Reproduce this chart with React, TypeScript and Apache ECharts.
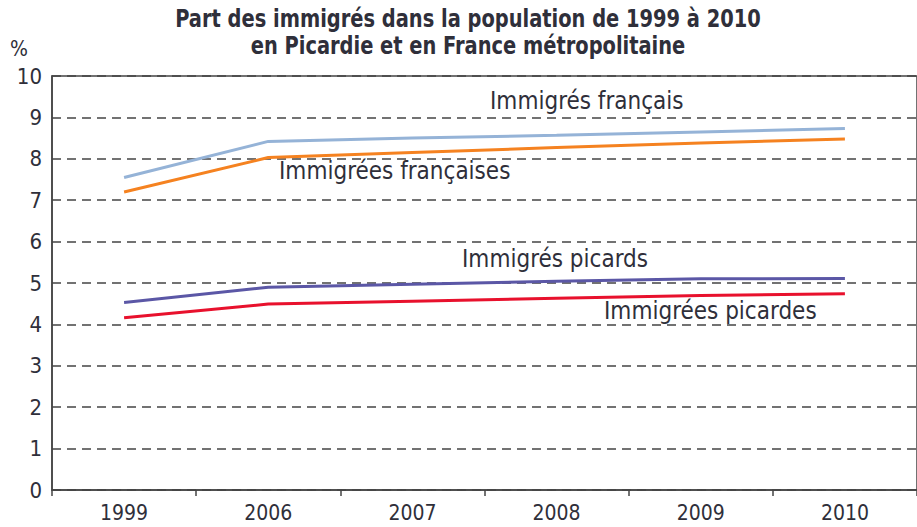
import React, { useEffect, useRef } from "react";
import * as echarts from "echarts";

const years = ["1999", "2006", "2007", "2008", "2009", "2010"];
const immigresFrancais = [7.55, 8.42, 8.5, 8.57, 8.65, 8.73];
const immigreesFrancaises = [7.2, 8.03, 8.15, 8.27, 8.38, 8.48];
const immigresPicards = [4.53, 4.9, 4.97, 5.04, 5.1, 5.11];
const immigreesPicardes = [4.16, 4.49, 4.56, 4.63, 4.7, 4.74];
const yTicks = [0, 1, 2, 3, 4, 5, 6, 7, 8, 9, 10];
const titleLines = [
  "Part des immigrés dans la population de 1999 à 2010",
  "en Picardie et en France métropolitaine",
];

const FONT = '"DejaVu Sans Condensed", "Liberation Sans Narrow", "Roboto", sans-serif';
const TXT = "#2f2f3a";

export default function App() {
  const ref = useRef<HTMLDivElement>(null);
  useEffect(() => {
    if (!ref.current) return;
    const chart = echarts.init(ref.current, null, { renderer: "svg" });
    const mk = (name: string, data: number[], color: string) => ({
      name,
      type: "line",
      data,
      symbol: "none",
      lineStyle: { color, width: 3 },
      itemStyle: { color },
    });
    const lbl = (text: string, x: number, y: number) => ({
      type: "text",
      x,
      y,
      scaleX: 0.96,
      style: { text, fontFamily: FONT, fontSize: 25, fill: TXT },
    });
    chart.setOption({
      animation: false,
      backgroundColor: "#ffffff",
      grid: {
        left: 52,
        right: -11,
        top: 76,
        bottom: 37,
        show: true,
        borderColor: "#444",
        borderWidth: 1.5,
      },
      xAxis: {
        type: "category",
        data: years,
        boundaryGap: true,
        axisLine: { lineStyle: { color: "#444", width: 1.5 } },
        axisTick: { show: true, length: 6, lineStyle: { color: "#444", width: 1.5 } },
        axisLabel: {
          fontFamily: FONT,
          fontSize: 21,
          color: TXT,
          margin: 12,
        },
      },
      yAxis: {
        type: "value",
        min: yTicks[0],
        max: yTicks[yTicks.length - 1],
        interval: 1,
        name: "%",
        nameLocation: "end",
        nameGap: 17,
        nameTextStyle: {
          fontFamily: FONT,
          fontSize: 21,
          color: TXT,
          align: "left",
          padding: [0, 0, 0, -42],
        },
        axisLine: { show: true, lineStyle: { color: "#444", width: 1.5 } },
        axisTick: { show: false },
        axisLabel: {
          fontFamily: FONT,
          fontSize: 22,
          color: TXT,
          margin: 10,
        },
        splitLine: {
          show: true,
          lineStyle: { color: "#444", width: 1.5, type: [9, 6] },
        },
      },
      series: [
        mk("Immigrés français", immigresFrancais, "#95b3d7"),
        mk("Immigrées françaises", immigreesFrancaises, "#f58220"),
        mk("Immigrés picards", immigresPicards, "#5b57a6"),
        mk("Immigrées picardes", immigreesPicardes, "#e8112d"),
      ],
      graphic: [
        {
          type: "text",
          x: 468,
          y: 5,
          scaleX: 0.9,
          style: {
            text: titleLines.join("\n"),
            fontFamily: FONT,
            fontWeight: "bold",
            fontSize: 24,
            lineHeight: 27,
            fill: TXT,
            align: "center",
          },
        },
        lbl("Immigrés français", 490, 88),
        lbl("Immigrées françaises", 279, 158),
        lbl("Immigrés picards", 462, 246),
        lbl("Immigrées picardes", 604, 298),
      ],
    });
    return () => chart.dispose();
  }, []);
  return (
    <div
      ref={ref}
      style={{ position: "fixed", left: 0, top: 0, width: 917, height: 527, background: "#fff" }}
    />
  );
}
